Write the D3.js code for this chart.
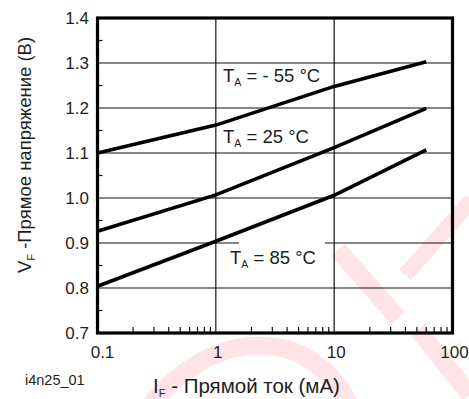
<!DOCTYPE html>
<html>
<head>
<meta charset="utf-8">
<script src="https://cdn.jsdelivr.net/npm/d3@7"></script>
<style>
  html, body { margin: 0; padding: 0; background: #fff; }
  svg { display: block; }
  text { font-family: "Liberation Sans", Arial, sans-serif; fill: #1e1e1e; }
</style>
</head>
<body>
<svg id="chart" width="469" height="399"></svg>
<script>
// Forward current, mA
const currents = [0.1, 1, 10, 60];
// Forward voltage, V, per ambient temperature
const vfMinus55 = [1.100, 1.162, 1.248, 1.303];
const vf25 = [0.926, 1.007, 1.112, 1.199];
const vf85 = [0.804, 0.904, 1.006, 1.107];

const seriesNames = ["- 55 °C", "25 °C", "85 °C"];
const xTickValues = [0.1, 1, 10, 100];
const xTickLabels = ["0.1", "1", "10", "100"];
const yTickValues = [0.7, 0.8, 0.9, 1.0, 1.1, 1.2, 1.3, 1.4];
const yTickLabels = ["0.7", "0.8", "0.9", "1.0", "1.1", "1.2", "1.3", "1.4"];

const svg = d3.select("#chart");
const plot = { left: 97.5, right: 452.5, top: 18, bottom: 333 };

const x = d3.scaleLog().domain([0.1, 100]).range([plot.left, plot.right]);
const y = d3.scaleLinear().domain([0.7, 1.4]).range([plot.bottom, plot.top]);

const ink = "#111";

// Faint watermark in the background
const wm = svg.append("g").attr("fill", "none").attr("stroke", "#ffe4e7").attr("stroke-linecap", "butt");
wm.append("path").attr("d", "M338,250 L398,318").attr("stroke-width", 18);
wm.append("path").attr("d", "M418,330 L470,395").attr("stroke-width", 18);
wm.append("path").attr("d", "M472,200 L405,275").attr("stroke-width", 16);
wm.append("path").attr("d", "M150,405 Q215,330 290,350 Q330,365 350,405").attr("stroke-width", 18);

// Major gridlines
const grid = svg.append("g").attr("stroke", ink).attr("stroke-width", 1.2);
grid.selectAll("line.h").data(yTickValues.slice(1, -1)).join("line")
  .attr("x1", plot.left).attr("x2", plot.right)
  .attr("y1", d => y(d)).attr("y2", d => y(d));
grid.selectAll("line.v").data(xTickValues.slice(1, -1)).join("line")
  .attr("x1", d => x(d)).attr("x2", d => x(d))
  .attr("y1", plot.top).attr("y2", plot.bottom);

// Minor ticks, drawn inward from the bottom and left edges
const xMinor = [];
[0.1, 1, 10].forEach(dec => { for (let k = 2; k <= 9; k++) xMinor.push(dec * k); });
svg.append("g").attr("stroke", ink).attr("stroke-width", 1.2)
  .selectAll("line").data(xMinor).join("line")
  .attr("x1", d => x(d)).attr("x2", d => x(d))
  .attr("y1", plot.bottom).attr("y2", plot.bottom - 6);

const yMinor = d3.range(0.75, 1.4, 0.1);
svg.append("g").attr("stroke", ink).attr("stroke-width", 1.2)
  .selectAll("line").data(yMinor).join("line")
  .attr("x1", plot.left).attr("x2", plot.left + 5)
  .attr("y1", d => y(d)).attr("y2", d => y(d));

// Label backing that clears the gridline under the 85 °C caption
svg.append("rect")
  .attr("x", 239).attr("y", 236).attr("width", 86).attr("height", 10)
  .attr("fill", "#fff");

// Curves
const line = d3.line().x(d => x(d[0])).y(d => y(d[1]));
[vfMinus55, vf25, vf85].forEach(vals => {
  svg.append("path")
    .datum(currents.map((c, i) => [c, vals[i]]))
    .attr("d", line)
    .attr("fill", "none")
    .attr("stroke", "#000")
    .attr("stroke-width", 3.6)
    .attr("stroke-linecap", "butt");
});

// Frame
svg.append("rect")
  .attr("x", plot.left).attr("y", plot.top)
  .attr("width", plot.right - plot.left).attr("height", plot.bottom - plot.top)
  .attr("fill", "none").attr("stroke", "#000").attr("stroke-width", 3.2);

// Tick labels
svg.append("g").selectAll("text").data(xTickValues).join("text")
  .attr("x", (d, i) => x(d) + (i === 0 ? 5 : 2)).attr("y", 358)
  .attr("text-anchor", "middle").attr("font-size", 17)
  .text((d, i) => xTickLabels[i]);

svg.append("g").selectAll("text").data(yTickValues).join("text")
  .attr("x", 89).attr("y", d => y(d) + 6)
  .attr("text-anchor", "end").attr("font-size", 17)
  .text((d, i) => yTickLabels[i]);

// Series captions
const captionPos = [[223, 82], [223, 143], [230, 264]];
seriesNames.forEach((name, i) => {
  const t = svg.append("text")
    .attr("x", captionPos[i][0]).attr("y", captionPos[i][1])
    .attr("font-size", 18.5);
  t.append("tspan").text("T");
  t.append("tspan").attr("font-size", 10.5).attr("dy", 4).text("A");
  t.append("tspan").attr("dy", -4).text(" = " + name);
});

// Axis titles
const xt = svg.append("text").attr("x", 153).attr("y", 393).attr("font-size", 20.5);
xt.append("tspan").text("I");
xt.append("tspan").attr("font-size", 11).attr("dy", 4).text("F");
xt.append("tspan").attr("dy", -4).text(" - Прямой ток (мА)");

const yt = svg.append("text")
  .attr("transform", "translate(31,155) rotate(-90)")
  .attr("text-anchor", "middle").attr("font-size", 18.5);
yt.append("tspan").text("V");
yt.append("tspan").attr("font-size", 11).attr("dy", 4).text("F");
yt.append("tspan").attr("dy", -4).text(" -Прямое напряжение (В)");

// Figure code
svg.append("text").attr("x", 25).attr("y", 385).attr("font-size", 14.5).text("i4n25_01");
</script>
</body>
</html>
